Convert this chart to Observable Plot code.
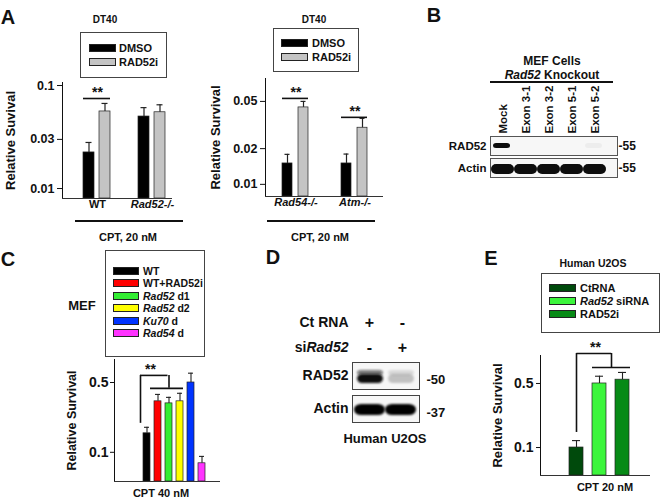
<!DOCTYPE html>
<html><head><meta charset="utf-8">
<script src="https://cdn.jsdelivr.net/npm/d3@7"></script>
<script src="https://cdn.jsdelivr.net/npm/@observablehq/plot@0.6"></script>
<style>
body{margin:0;background:#fff;}
#fig{position:relative;width:662px;height:500px;font-family:"Liberation Sans",Arial,sans-serif;font-weight:bold;color:#111;overflow:hidden;background:#fff;}
.lg{position:absolute;border:1px solid #444;background:#fff;box-sizing:border-box;}
.sw{position:absolute;border:1px solid #222;box-sizing:border-box;}
</style></head><body><div id="fig"></div>
<script>
// ---------------- DATA ----------------
// Panel A (DT40, CPT 20 nM)
const aTreatments = ["DMSO", "RAD52i"];
const aColors = ["#000000", "#c4c4c4"];
const a1Groups = ["WT", "Rad52-/-"];
const a1Dmso = [0.0224, 0.050];
const a1DmsoErr = [0.028, 0.061];
const a1Rad52i = [0.056, 0.055];
const a1Rad52iErr = [0.067, 0.065];
const a1Ticks = [0.01, 0.03, 0.1];
const a1SigGroups = ["WT"];
const a1SigLevel = [0.0748];
const a2Groups = ["Rad54-/-", "Atm-/-"];
const a2Dmso = [0.0150, 0.0150];
const a2DmsoErr = [0.0179, 0.018];
const a2Rad52i = [0.0445, 0.030];
const a2Rad52iErr = [0.050, 0.036];
const a2Ticks = [0.01, 0.02, 0.05];
const a2SigGroups = ["Rad54-/-", "Atm-/-"];
const a2SigLevel = [0.053, 0.0367];

// Panel B (western blot, MEF Rad52 knockout)
const bLanes = ["Mock", "Exon 3-1", "Exon 3-2", "Exon 5-1", "Exon 5-2"];
const bRows = ["RAD52", "Actin"];
const bRad52 = [1, 0, 0, 0, 0.04];
const bActin = [1, 1, 1, 1, 1];
const bMarkers = ["55", "55"];

// Panel C (MEF, CPT 40 nM)
const cGroups = ["WT", "WT+RAD52i", "Rad52 d1", "Rad52 d2", "Ku70 d", "Rad54 d"];
const cColors = ["#000000", "#ff0000", "#33ee33", "#ffff00", "#0033ff", "#ff33ff"];
const cMean = [0.155, 0.324, 0.309, 0.324, 0.50, 0.0776];
const cErr = [0.178, 0.38, 0.355, 0.39, 0.62, 0.091];
const cTicks = [0.1, 0.5];
const cSigBase = 0.195, cSigTop = 0.589, cSigBar = 0.437;

// Panel D (western blot, human U2OS)
const dLanes = ["lane 1", "lane 2"];
const dHeadRows = ["Ct RNA", "siRad52"];
const dCtRNA = ["+", "-"];
const dSiRad52 = ["-", "+"];
const dRad52 = [1, 0.22];
const dRad52Upper = [0.55, 0.12];
const dActin = [1, 1];
const dMarkers = ["50", "37"];

// Panel E (Human U2OS, CPT 20 nM)
const eGroups = ["CtRNA", "Rad52 siRNA", "RAD52i"];
const eColors = ["#004a0c", "#3cf53c", "#078a16"];
const eMean = [0.10, 0.50, 0.55];
const eErr = [0.119, 0.60, 0.66];
const eTicks = [0.1, 0.5];
const eSigBase = 0.146, eSigTop = 1.063, eSigBar = 0.746;

// ---------------- HELPERS ----------------
const fig = document.getElementById("fig");
const FONT = "Liberation Sans, Arial, sans-serif";
const svgNS = "http://www.w3.org/2000/svg";
const baseStyle = (size) => ({fontFamily: FONT, fontSize: size + "px", fontWeight: "bold", color: "#111", background: "transparent", overflow: "visible"});

function place(node, left, top) {
  const w = document.createElement("div");
  w.style.cssText = `position:absolute;left:${left}px;top:${top}px;`;
  w.appendChild(node);
  fig.appendChild(w);
  return node;
}
function txt(s, x, y, size = 11, anchor = "middle") {
  const d = document.createElement("div");
  const tx = anchor === "middle" ? "-50%" : anchor === "end" ? "-100%" : "0";
  d.style.cssText = `position:absolute;left:${x}px;top:${y}px;transform:translate(${tx},-50%);font-size:${size}px;line-height:1;white-space:nowrap;`;
  d.textContent = s;
  fig.appendChild(d);
}
function hline(x1, x2, y, w = 1.5) {
  const d = document.createElement("div");
  d.style.cssText = `position:absolute;left:${x1}px;top:${y - w / 2}px;width:${x2 - x1}px;height:${w}px;background:#111;`;
  fig.appendChild(d);
}
function legend(names, colors, o) {
  const box = document.createElement("div");
  box.className = "lg";
  box.style.cssText += `left:${o.left}px;top:${o.top}px;width:${o.width}px;height:${o.height}px;`;
  names.forEach((n, i) => {
    const cy = o.row0 + i * o.step - o.top - 1;
    const sw = document.createElement("div");
    sw.className = "sw";
    sw.style.cssText += `left:${o.swX}px;top:${cy - o.swH / 2}px;width:${o.swW}px;height:${o.swH}px;background:${colors[i]};`;
    box.appendChild(sw);
    const t = document.createElement("div");
    t.style.cssText = `position:absolute;left:${o.txX}px;top:${cy}px;transform:translateY(-50%);font-size:${o.size}px;line-height:1;white-space:nowrap;`;
    t.textContent = n;
    box.appendChild(t);
  });
  fig.appendChild(box);
}
function setLabelSize(svg, size) {
  d3.select(svg).selectAll('[aria-label="y-axis label"] text, [aria-label="y-axis label"]').attr("font-size", size);
}
function blurBands(svg, sd) {
  const defs = document.createElementNS(svgNS, "defs");
  defs.innerHTML = `<filter id="blur${sd}" x="-20%" y="-50%" width="140%" height="200%"><feGaussianBlur stdDeviation="${sd}"/></filter>`;
  svg.insertBefore(defs, svg.firstChild);
  d3.select(svg).selectAll('[aria-label="cell"] rect').attr("filter", `url(#blur${sd})`);
}
function italicize(root) {
  const re = /(Rad5[24](?:-\/-)?|Atm-\/-|Ku70)/g;
  const walker = document.createTreeWalker(root, NodeFilter.SHOW_TEXT);
  const nodes = [];
  while (walker.nextNode()) nodes.push(walker.currentNode);
  for (const node of nodes) {
    const s = node.nodeValue;
    re.lastIndex = 0;
    if (!re.test(s)) continue;
    re.lastIndex = 0;
    const parent = node.parentNode;
    const isSvg = parent.namespaceURI === svgNS;
    const frag = document.createDocumentFragment();
    let last = 0, m;
    while ((m = re.exec(s))) {
      if (m.index > last) frag.appendChild(document.createTextNode(s.slice(last, m.index)));
      const el = isSvg ? document.createElementNS(svgNS, "tspan") : document.createElement("span");
      if (isSvg) el.setAttribute("font-style", "italic"); else el.style.fontStyle = "italic";
      el.textContent = m[0];
      frag.appendChild(el);
      last = m.index + m[0].length;
    }
    if (last < s.length) frag.appendChild(document.createTextNode(s.slice(last)));
    parent.replaceChild(frag, node);
  }
}

// ---------------- PANEL A ----------------
function survivalA(o) {
  const data = o.groups.flatMap((g, i) => [
    {group: g, treatment: "DMSO", mean: o.dmso[i], err: o.dmsoErr[i]},
    {group: g, treatment: "RAD52i", mean: o.rad[i], err: o.radErr[i]}
  ]);
  const sig = o.sigGroups.map((g, i) => ({group: g, level: o.sigLevel[i], from: "DMSO", to: "RAD52i"}));
  const labels = o.groups.map(g => ({group: g, from: "DMSO"}));
  const y0 = o.domain[0];
  const svg = Plot.plot({
    width: o.width, height: o.height,
    marginLeft: o.ml, marginRight: o.mr, marginTop: o.mt, marginBottom: o.mb,
    style: baseStyle(12.5),
    fx: {domain: o.groups, padding: 0, axis: null, label: null},
    x: {domain: aTreatments, axis: null, paddingInner: o.pi, paddingOuter: o.po, align: o.align},
    y: {type: "log", domain: o.domain, ticks: o.ticks, tickFormat: d => String(d), tickSize: 5, tickPadding: 3,
        line: true, label: o.label, labelAnchor: "center", labelOffset: o.labelOffset, labelArrow: false},
    color: {domain: aTreatments, range: aColors},
    marks: [
      Plot.barY(data, {fx: "group", x: "treatment", y1: y0, y2: "mean", fill: "treatment", stroke: "#222", strokeWidth: 0.7}),
      Plot.ruleX(data, {fx: "group", x: "treatment", y1: "mean", y2: "err", stroke: "#222", strokeWidth: 1.2}),
      Plot.tickY(data, {fx: "group", x: "treatment", y: "err", insetLeft: 2.5, insetRight: 2.5, stroke: "#222", strokeWidth: 1.2}),
      Plot.ruleY([y0], {stroke: "#333", strokeWidth: 1.2}),
      Plot.ruleY(sig, {fx: "group", y: "level", x1: "from", x2: "to", strokeWidth: 1.6}),
      Plot.text(sig, {fx: "group", x: "from", y: "level", text: () => "**", dx: o.half, dy: -6, fontSize: 14}),
      Plot.text(labels, {fx: "group", x: "from", text: "group", frameAnchor: "bottom", dx: o.half, dy: 9, fontSize: 11})
    ]
  });
  setLabelSize(svg, 13);
  return svg;
}

place(survivalA({groups: a1Groups, dmso: a1Dmso, dmsoErr: a1DmsoErr, rad: a1Rad52i, radErr: a1Rad52iErr,
  sigGroups: a1SigGroups, sigLevel: a1SigLevel, domain: [0.0080, 0.107], ticks: a1Ticks, label: "Relative Suvival",
  width: 180, height: 150, ml: 62, mr: 8, mt: 8, mb: 26, pi: 0.294, po: 0.765, align: 0.75, half: 8.5, labelOffset: 57}), 0, 74);

place(survivalA({groups: a2Groups, dmso: a2Dmso, dmsoErr: a2DmsoErr, rad: a2Rad52i, radErr: a2Rad52iErr,
  sigGroups: a2SigGroups, sigLevel: a2SigLevel, domain: [0.0079, 0.078], ticks: a2Ticks, label: "Relative Survival",
  width: 230, height: 152, ml: 105, mr: 7, mt: 8, mb: 26, pi: 0.353, po: 0.912, align: 0.52, half: 8.5, labelOffset: 55}), 160, 70);

txt("A", 8, 17, 20);
txt("DT40", 105, 20, 10);
legend(aTreatments, aColors, {left: 80, top: 32, width: 87, height: 46, row0: 48, step: 14, swX: 8, swW: 27, swH: 8, txX: 38, size: 11});
hline(75, 183, 221);
txt("CPT, 20 nM", 128, 237, 11);

txt("DT40", 314, 20, 10);
legend(aTreatments, aColors, {left: 273, top: 28, width: 86, height: 44, row0: 43, step: 14, swX: 7, swW: 27, swH: 8, txX: 38, size: 11});
hline(267, 375, 221);
txt("CPT, 20 nM", 320, 237, 11);

// ---------------- PANEL B ----------------
{
  const bands = bLanes.flatMap((lane, i) => [
    {lane, row: "RAD52", v: bRad52[i]},
    {lane, row: "Actin", v: bActin[i]}
  ]);
  const marks = bRows.map((row, i) => ({row, text: "-" + bMarkers[i]}));
  const svg = Plot.plot({
    width: 222, height: 96, marginLeft: 50, marginRight: 45, marginTop: 51, marginBottom: 3,
    style: baseStyle(11.5),
    x: {domain: bLanes, axis: "top", tickSize: 0, tickPadding: 3, tickRotate: -90, paddingInner: 0.1, paddingOuter: 0.2, align: 0.15, label: null},
    fy: {domain: bRows, axis: "left", tickSize: 0, tickPadding: 4, paddingInner: 0.133, paddingOuter: 0, label: null},
    opacity: {domain: [0, 1], range: [0, 1]},
    marks: [
      Plot.frame({fill: "#f7f7f7", stroke: "none"}),
      Plot.cell(bands.filter(d => d.row === "RAD52"), {x: "lane", fy: "row", fill: "#111", fillOpacity: "v", insetTop: 7, insetBottom: 7, insetLeft: 1, insetRight: 3, rx: 3}),
      Plot.cell(bands.filter(d => d.row === "Actin"), {x: "lane", fy: "row", fill: "#080808", fillOpacity: "v", insetTop: 6, insetBottom: 3, insetLeft: -1, insetRight: -1, rx: 5}),
      Plot.frame({stroke: "#555"}),
      Plot.text(marks, {fy: "row", text: "text", frameAnchor: "top-right", textAnchor: "start", dx: 1, dy: 5, fontSize: 12})
    ]
  });
  blurBands(svg, 0.7);
  place(svg, 440, 85);
}
txt("B", 434, 15, 20);
txt("MEF Cells", 552, 61, 12);
txt("Rad52 Knockout", 552, 75, 12);
hline(490, 613, 82, 1.3);

// ---------------- PANEL C ----------------
{
  const data = cGroups.map((g, i) => ({group: g, mean: cMean[i], err: cErr[i]}));
  const sig = [{from: "WT", join: "Rad52 d1", a: "WT+RAD52i", b: "Rad52 d2", base: cSigBase, top: cSigTop, bar: cSigBar}];
  const dom = [0.051, 0.85];
  const svg = Plot.plot({
    width: 190, height: 150, marginLeft: 74, marginRight: 10, marginTop: 9, marginBottom: 19,
    style: baseStyle(14),
    x: {domain: cGroups, axis: null, paddingInner: 0.36, paddingOuter: 1.67, align: 0.66},
    y: {type: "log", domain: dom, ticks: cTicks, tickFormat: d => String(d), tickSize: 4, tickPadding: 2,
        line: true, label: "Relative Survival", labelAnchor: "center", labelOffset: 47, labelArrow: false},
    color: {domain: cGroups, range: cColors},
    marks: [
      Plot.barY(data, {x: "group", y1: dom[0], y2: "mean", fill: "group", stroke: "#222", strokeWidth: 0.7}),
      Plot.ruleX(data, {x: "group", y1: "mean", y2: "err", stroke: "#222", strokeWidth: 1.1}),
      Plot.tickY(data, {x: "group", y: "err", insetLeft: 1, insetRight: 1, stroke: "#222", strokeWidth: 1.1}),
      Plot.ruleY([dom[0]], {stroke: "#333", strokeWidth: 1.2}),
      Plot.ruleX(sig, {x: "from", y1: "base", y2: "top", dx: -6.5, strokeWidth: 1.6}),
      Plot.ruleY(sig, {y: "top", x1: "from", x2: "join", insetLeft: -3, insetRight: 4.5, strokeWidth: 1.6}),
      Plot.ruleX(sig, {x: "join", y1: "bar", y2: "top", strokeWidth: 1.6}),
      Plot.ruleY(sig, {y: "bar", x1: "a", x2: "b", insetLeft: -4, strokeWidth: 1.6}),
      Plot.text(sig, {x: "from", y: "top", text: () => "**", dx: 3.5, dy: -6, fontSize: 14})
    ]
  });
  setLabelSize(svg, 12.5);
  place(svg, 40, 350);
}
txt("C", 8, 259, 20);
txt("MEF", 82, 305, 13);
legend(cGroups, cColors, {left: 105, top: 250, width: 100, height: 107, row0: 271, step: 12.4, swX: 7, swW: 26, swH: 8, txX: 37, size: 10.5});
txt("CPT 40 nM", 161, 493, 11);

// ---------------- PANEL D ----------------
{
  const head = [
    ...dLanes.map((lane, i) => ({lane, row: "Ct RNA", sign: dCtRNA[i]})),
    ...dLanes.map((lane, i) => ({lane, row: "siRad52", sign: dSiRad52[i]}))
  ];
  const svgH = Plot.plot({
    width: 190, height: 52, marginLeft: 112, marginRight: 11, marginTop: 2, marginBottom: 0,
    style: baseStyle(14),
    x: {domain: dLanes, axis: null, paddingInner: 0.06, paddingOuter: 0.08},
    fy: {domain: dHeadRows, axis: "left", tickSize: 0, tickPadding: 4, padding: 0, label: null},
    marks: [Plot.text(head, {x: "lane", fy: "row", text: "sign", fontSize: 16})]
  });
  place(svgH, 240, 308);

  const bands = dLanes.flatMap((lane, i) => [
    {lane, row: "RAD52", v: dRad52[i], u: dRad52Upper[i]},
    {lane, row: "Actin", v: dActin[i]}
  ]);
  const marks = bRows.map((row, i) => ({row, text: "-" + dMarkers[i]}));
  const svg = Plot.plot({
    width: 230, height: 75, marginLeft: 112, marginRight: 51, marginTop: 6, marginBottom: 7,
    style: baseStyle(14),
    x: {domain: dLanes, axis: null, paddingInner: 0.06, paddingOuter: 0.08},
    fy: {domain: bRows, axis: "left", tickSize: 0, tickPadding: 4, paddingInner: 0.176, paddingOuter: 0, label: null},
    opacity: {domain: [0, 1], range: [0, 1]},
    marks: [
      Plot.frame({fill: "#f7f7f7", stroke: "none"}),
      Plot.cell(bands.filter(d => d.row === "RAD52"), {x: "lane", fy: "row", fill: "#111", fillOpacity: "u", insetTop: 8, insetBottom: 14, insetLeft: 2, insetRight: 1, rx: 4}),
      Plot.cell(bands.filter(d => d.row === "RAD52"), {x: "lane", fy: "row", fill: "#111", fillOpacity: "v", insetTop: 12, insetBottom: 6, insetLeft: 2, insetRight: 1, rx: 5}),
      Plot.cell(bands.filter(d => d.row === "Actin"), {x: "lane", fy: "row", fill: "#060606", fillOpacity: "v", insetTop: 9, insetBottom: 7, insetLeft: -1, insetRight: -1, rx: 7}),
      Plot.frame({stroke: "#444"}),
      Plot.text(marks, {fy: "row", text: "text", frameAnchor: "bottom-right", textAnchor: "start", dx: 7, dy: -6, fontSize: 13})
    ]
  });
  blurBands(svg, 0.8);
  place(svg, 240, 355);
}
txt("D", 273, 257, 20);
txt("Human U2OS", 385, 438, 13);

// ---------------- PANEL E ----------------
{
  const data = eGroups.map((g, i) => ({group: g, mean: eMean[i], err: eErr[i]}));
  const sig = [{from: "CtRNA", a: "Rad52 siRNA", b: "RAD52i", base: eSigBase, top: eSigTop, bar: eSigBar}];
  const dom = [0.0495, 1.01];
  const svg = Plot.plot({
    width: 215, height: 150, marginLeft: 100, marginRight: 5, marginTop: 15, marginBottom: 15,
    style: baseStyle(14),
    x: {domain: eGroups, axis: null, paddingInner: 0.375, paddingOuter: 0.98, align: 0.58},
    y: {type: "log", domain: dom, ticks: eTicks, tickFormat: d => String(d), tickSize: 4, tickPadding: 3,
        line: true, label: "Relative Survival", labelAnchor: "center", labelOffset: 48, labelArrow: false},
    color: {domain: eGroups, range: eColors},
    marks: [
      Plot.barY(data, {x: "group", y1: dom[0], y2: "mean", fill: "group", stroke: "#222", strokeWidth: 0.7}),
      Plot.ruleX(data, {x: "group", y1: "mean", y2: "err", stroke: "#222", strokeWidth: 1.1}),
      Plot.tickY(data, {x: "group", y: "err", insetLeft: 3, insetRight: 3, stroke: "#222", strokeWidth: 1.1}),
      Plot.ruleY([dom[0]], {stroke: "#333", strokeWidth: 1.2}),
      Plot.ruleX(sig, {x: "from", y1: "base", y2: "top", strokeWidth: 1.6}),
      Plot.ruleY(sig, {y: "top", x1: "from", x2: "a", insetLeft: 7.5, insetRight: -5, strokeWidth: 1.6}),
      Plot.ruleX(sig, {x: "a", y1: "bar", y2: "top", dx: 12, strokeWidth: 1.6}),
      Plot.ruleY(sig, {y: "bar", x1: "a", x2: "b", insetRight: -1, strokeWidth: 1.6}),
      Plot.text(sig, {x: "a", y: "top", text: () => "**", dx: -4, dy: -6, fontSize: 14})
    ]
  });
  setLabelSize(svg, 13);
  place(svg, 440, 340);
}
txt("E", 491, 258, 20);
txt("Human U2OS", 593, 263, 10.5);
legend(eGroups, eColors, {left: 541, top: 273, width: 119, height: 60, row0: 288, step: 13, swX: 7, swW: 27, swH: 8, txX: 38, size: 11});
txt("CPT 20 nM", 605, 487, 11);

italicize(fig);
</script></body></html>
